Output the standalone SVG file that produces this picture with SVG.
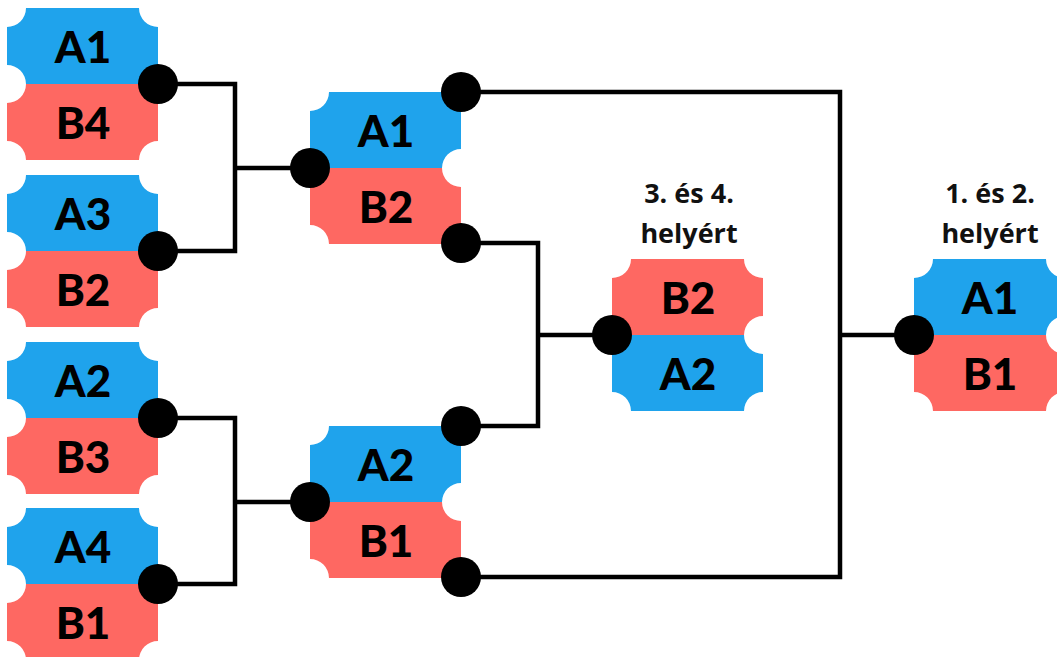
<svg xmlns="http://www.w3.org/2000/svg" xmlns:xlink="http://www.w3.org/1999/xlink" width="1057" height="657" viewBox="0 0 1057 657">
<style>
.b{fill:#1fa3ec}
.r{fill:#fe6862}
.t{font-family:Lato,"Liberation Sans",sans-serif;font-weight:900;font-size:44px;fill:#000;text-anchor:middle}
.h{font-family:"Open Sans","Liberation Sans",sans-serif;font-weight:700;font-size:27px;fill:#111;text-anchor:middle}
.ln{fill:none;stroke:#000;stroke-width:4.5;stroke-linejoin:miter}
.d{fill:#000}
</style>
<defs>
<path id="th" d="M19,0 H132 A19 19 0 0 0 151,19 V57 A19 19 0 0 0 132,76 H19 A19 19 0 0 0 0,57 V19 A19 19 0 0 0 19,0 Z"/>
<path id="bh" d="M19,76 H132 A19 19 0 0 0 151,95 V133 A19 19 0 0 0 132,152 H19 A19 19 0 0 0 0,133 V95 A19 19 0 0 0 19,76 Z"/>
</defs>
<rect width="1057" height="657" fill="#fff"/>
<g id="n1"><use href="#th" x="7" y="8" class="b"/><use href="#bh" x="7" y="8" class="r"/><text class="t" x="83" y="63">A1</text><text class="t" x="83" y="139">B4</text></g>
<g id="n2"><use href="#th" x="7" y="175" class="b"/><use href="#bh" x="7" y="175" class="r"/><text class="t" x="83" y="230">A3</text><text class="t" x="83" y="306">B2</text></g>
<g id="n3"><use href="#th" x="7" y="342" class="b"/><use href="#bh" x="7" y="342" class="r"/><text class="t" x="83" y="397">A2</text><text class="t" x="83" y="473">B3</text></g>
<g id="n4"><use href="#th" x="7" y="508" class="b"/><use href="#bh" x="7" y="508" class="r"/><text class="t" x="83" y="563">A4</text><text class="t" x="83" y="639">B1</text></g>
<g id="n5"><use href="#th" x="310" y="92" class="b"/><use href="#bh" x="310" y="92" class="r"/><text class="t" x="386" y="147">A1</text><text class="t" x="386" y="223">B2</text></g>
<g id="n6"><use href="#th" x="310" y="426" class="b"/><use href="#bh" x="310" y="426" class="r"/><text class="t" x="386" y="481">A2</text><text class="t" x="386" y="557">B1</text></g>
<g id="n7"><text class="h" x="689" y="203">3. és 4.</text><text class="h" x="689" y="243">helyért</text><use href="#th" x="612" y="259" class="r"/><use href="#bh" x="612" y="259" class="b"/><text class="t" x="688" y="314">B2</text><text class="t" x="688" y="390">A2</text></g>
<g id="n8"><text class="h" x="990" y="203">1. és 2.</text><text class="h" x="990" y="243">helyért</text><use href="#th" x="914" y="259" class="b"/><use href="#bh" x="914" y="259" class="r"/><text class="t" x="990" y="314">A1</text><text class="t" x="990" y="390">B1</text></g>
<g id="connectors">
<path class="ln" d="M158,84 H235 V251 H158 M235,168 H310"/>
<path class="ln" d="M158,418 H235 V584 H158 M235,502 H310"/>
<path class="ln" d="M461,243 H538 V426 H461 M538,335 H612"/>
<path class="ln" d="M461,92 H840 V577 H461 M840,335 H914"/>
<circle class="d" cx="158" cy="84" r="20"/>
<circle class="d" cx="158" cy="251" r="20"/>
<circle class="d" cx="158" cy="418" r="20"/>
<circle class="d" cx="158" cy="584" r="20"/>
<circle class="d" cx="310" cy="168" r="20"/>
<circle class="d" cx="310" cy="502" r="20"/>
<circle class="d" cx="461" cy="92" r="20"/>
<circle class="d" cx="461" cy="243" r="20"/>
<circle class="d" cx="461" cy="426" r="20"/>
<circle class="d" cx="461" cy="577" r="20"/>
<circle class="d" cx="612" cy="335" r="20"/>
<circle class="d" cx="914" cy="335" r="20"/>
</g>
</svg>
